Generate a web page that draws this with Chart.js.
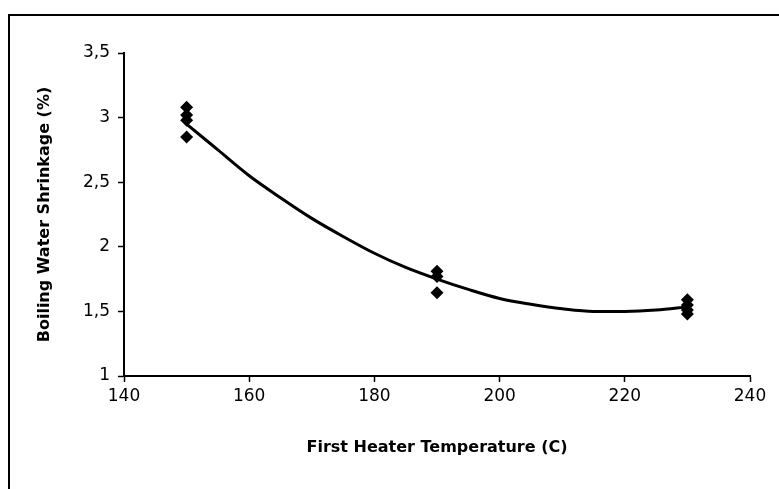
<!DOCTYPE html>
<html>
<head>
<meta charset="utf-8">
<script src="https://cdn.jsdelivr.net/npm/chart.js@4.4.1/dist/chart.umd.min.js"></script>
<style>
  html, body { margin: 0; padding: 0; background: #ffffff; }
  #wrap { width: 779px; height: 489px; position: relative; }
</style>
</head>
<body>
<div id="wrap"><canvas id="c" width="779" height="489"></canvas></div>
<script>
// Measured points (x = first heater temperature, y = boiling water shrinkage %)
const pointTemps = [150, 150, 150, 150, 190, 190, 190, 230, 230, 230, 230];
const pointShrinkage = [3.08, 3.02, 2.98, 2.85, 1.81, 1.77, 1.645, 1.59, 1.55, 1.51, 1.48];

// Trend line values
const trendTemps = [150, 155, 160, 165, 170, 175, 180, 185, 190, 195, 200, 205, 210, 215, 220, 225, 230];
const trendShrinkage = [2.95, 2.75, 2.55, 2.38, 2.22, 2.08, 1.95, 1.84, 1.75, 1.67, 1.60, 1.555, 1.52, 1.50, 1.50, 1.51, 1.535];

// Axis ticks
const xTicks = [140, 160, 180, 200, 220, 240];
const yTicks = [1, 1.5, 2, 2.5, 3, 3.5];

const xTitle = 'First Heater Temperature (C)';
const yTitle = 'Boiling Water Shrinkage (%)';

const frame = {
  id: 'frame',
  beforeDraw(chart) {
    const ctx = chart.ctx;
    ctx.save();
    ctx.fillStyle = '#ffffff';
    ctx.fillRect(0, 0, chart.width, chart.height);
    ctx.strokeStyle = '#000000';
    ctx.lineWidth = 2;
    ctx.strokeRect(9, 15, chart.width + 20, chart.height + 20);
    ctx.restore();
  }
};

const fontFam = '"DejaVu Sans", "Liberation Sans", sans-serif';

new Chart(document.getElementById('c'), {
  type: 'scatter',
  data: {
    datasets: [
      {
        label: 'Trend',
        data: trendTemps.map((t, i) => ({ x: t, y: trendShrinkage[i] })),
        showLine: true,
        borderColor: '#000000',
        borderWidth: 3,
        pointRadius: 0,
        cubicInterpolationMode: 'monotone',
        fill: false,
        order: 2
      },
      {
        label: 'Data',
        data: pointTemps.map((t, i) => ({ x: t, y: pointShrinkage[i] })),
        pointStyle: 'rectRot',
        pointRadius: 6.5,
        backgroundColor: '#000000',
        borderColor: '#000000',
        borderWidth: 0,
        order: 1
      }
    ]
  },
  options: {
    responsive: false,
    animation: false,
    devicePixelRatio: 1,
    layout: { padding: { top: 53, right: 29, left: 0, bottom: 0 } },
    plugins: {
      legend: { display: false },
      tooltip: { enabled: false }
    },
    scales: {
      x: {
        type: 'linear',
        min: xTicks[0],
        max: xTicks[xTicks.length - 1],
        afterBuildTicks(scale) { scale.ticks = xTicks.map(v => ({ value: v })); },
        afterFit(scale) { scale.height = 113; },
        border: { color: '#000000', width: 2 },
        grid: { drawOnChartArea: false, drawTicks: true, tickLength: 6, tickColor: '#000000', tickWidth: 1.5 },
        ticks: {
          color: '#000000',
          padding: 4,
          maxRotation: 0,
          font: { family: fontFam, size: 17 },
          callback: (v) => String(v)
        },
        title: {
          display: true,
          text: xTitle,
          color: '#000000',
          font: { family: fontFam, size: 16, weight: 'bold' },
          padding: { top: 0, bottom: 32 }
        }
      },
      y: {
        type: 'linear',
        min: yTicks[0],
        max: yTicks[yTicks.length - 1],
        afterBuildTicks(scale) { scale.ticks = yTicks.map(v => ({ value: v })); },
        afterFit(scale) { scale.width = 124; },
        border: { color: '#000000', width: 2 },
        grid: { drawOnChartArea: false, drawTicks: true, tickLength: 6, tickColor: '#000000', tickWidth: 1.5 },
        ticks: {
          color: '#000000',
          padding: 8,
          font: { family: fontFam, size: 17 },
          callback: (v) => String(v).replace('.', ',')
        },
        title: {
          display: true,
          text: yTitle,
          color: '#000000',
          font: { family: fontFam, size: 16, weight: 'bold' },
          padding: { top: 35, bottom: 0 }
        }
      }
    }
  },
  plugins: [frame]
});
</script>
</body>
</html>
